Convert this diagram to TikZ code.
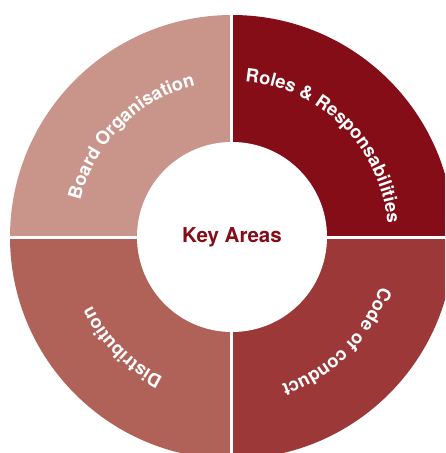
\documentclass[tikz,border=0pt]{standalone}
\usepackage{fontspec}
\setsansfont{TeX Gyre Heros}
\definecolor{boardcol}{RGB}{201,149,139}
\definecolor{rolescol}{RGB}{132,13,24}
\definecolor{conductcol}{RGB}{156,56,55}
\definecolor{distribcol}{RGB}{176,98,89}
\usetikzlibrary{decorations.text}

\newcommand{\arcfont}{\sffamily\bfseries\fontsize{18.3}{21}\selectfont\color{white}}

\begin{document}
\begin{tikzpicture}[x=1pt,y=1pt,
  gap/.style={draw=white,line width=3pt},
  hub/.style={circle,fill=white,minimum size=190pt,inner sep=0pt,
    font=\sffamily\bfseries\fontsize{20.5}{24}\selectfont,text=rolescol},
  arclabel/.style={decorate,decoration={text along path,text align=center,
    text={|\arcfont|#1}}}
]
\useasboundingbox (-232,-216) rectangle (213,237);
\clip (-232,-216) rectangle (213,237);

% Quadrants
\foreach \s/\col in {0/rolescol,90/boardcol,180/distribcol,270/conductcol}
  \fill[\col] (0,0) -- (\s:222pt) arc[start angle=\s,end angle=\s+90,radius=222pt] -- cycle;

% Gaps
\draw[gap] (0,-230) -- (0,230);
\draw[gap] (-230,0) -- (230,0);

% Hub
\node[hub] (hub) at (0,0) {Key Areas};

% Labels
\foreach \m/\txt in {45/{Roles {\&} Responsabilities},135/{Board Organisation},
                     225/{Distribution},315/{Code of conduct}}
  \path[arclabel=\txt] ({\m+60}:156pt) arc[start angle=\m+60,end angle=\m-60,radius=156pt];
\end{tikzpicture}
\end{document}
